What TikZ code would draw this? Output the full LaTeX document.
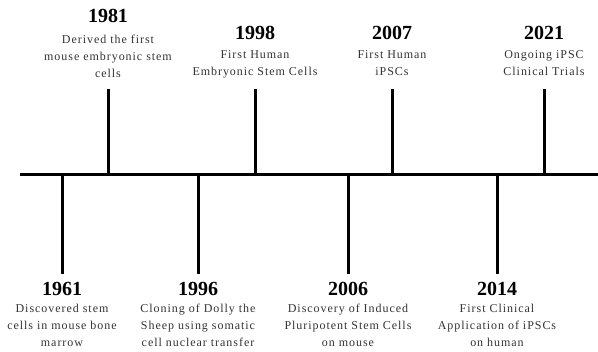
\documentclass[tikz,border=0pt]{standalone}
\usepackage{fontspec}
\setmainfont{Liberation Serif}
\newfontfamily\descfont[LetterSpace=8]{Liberation Serif}
\definecolor{desccol}{HTML}{333333}
\begin{document}
\begin{tikzpicture}[x=1pt,y=-1pt,
  axis/.style={line width=3pt},
  tick/.style={line width=3pt},
  year/.style={font=\fontsize{20}{20}\selectfont\bfseries, inner sep=0pt},
  desc/.style={font=\descfont\fontsize{12}{17}\selectfont, text=desccol, align=center, inner sep=0pt, anchor=north}]
\useasboundingbox (0,0) rectangle (598,352);
% axis
\coordinate (L) at (20,175);
\coordinate (R) at (598,175);
\draw[axis] (L) -- (R);
% up ticks
\foreach \n/\x in {a/108,b/255,c/392,d/544}{
  \coordinate (\n0) at (\x,176);
  \coordinate (\n1) at (\x,89);
  \draw[tick] (\n0) -- (\n1);
}
% down ticks
\foreach \n/\x in {e/62,f/198,g/348,h/497}{
  \coordinate (\n0) at (\x,174);
  \coordinate (\n1) at (\x,274);
  \draw[tick] (\n0) -- (\n1);
}
% top labels
\node[year] (y1981) at (108,16) {1981};
\node[desc] (d1981) at (108,35) {Derived the first\\mouse embryonic stem\\cells};
\node[year] (y1998) at (255,33) {1998};
\node[desc] (d1998) at (255,50) {First Human\\Embryonic Stem Cells};
\node[year] (y2007) at (392,33) {2007};
\node[desc] (d2007) at (392,50) {First Human\\iPSCs};
\node[year] (y2021) at (544,33) {2021};
\node[desc] (d2021) at (544,50) {Ongoing iPSC\\Clinical Trials};
% bottom labels
\node[year] (y1961) at (62,289) {1961};
\node[desc] (d1961) at (62,304) {Discovered stem\\cells in mouse bone\\marrow};
\node[year] (y1996) at (198,289) {1996};
\node[desc] (d1996) at (198,304) {Cloning of Dolly the\\Sheep using somatic\\cell nuclear transfer};
\node[year] (y2006) at (348,289) {2006};
\node[desc] (d2006) at (348,304) {Discovery of Induced\\Pluripotent Stem Cells\\on mouse};
\node[year] (y2014) at (497,289) {2014};
\node[desc] (d2014) at (497,304) {First Clinical\\Application of iPSCs\\on human};
\end{tikzpicture}
\end{document}
